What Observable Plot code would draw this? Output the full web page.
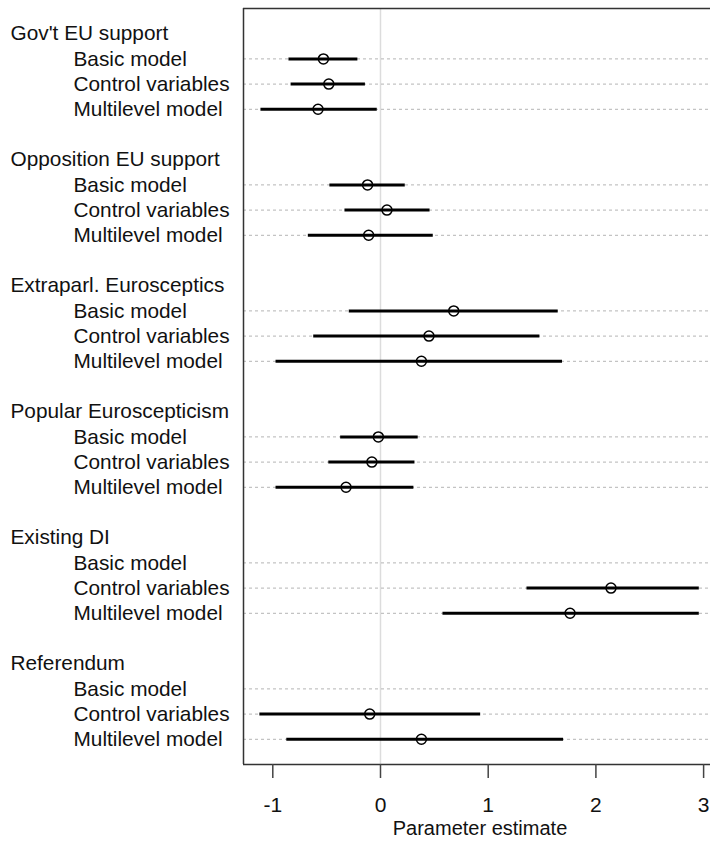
<!DOCTYPE html>
<html>
<head>
<meta charset="utf-8">
<script src="https://cdn.jsdelivr.net/npm/d3@7"></script>
<script src="https://cdn.jsdelivr.net/npm/@observablehq/plot@0.6"></script>
<style>
  html, body { margin: 0; padding: 0; background: #fff; }
  #chart svg { display: block; }
</style>
</head>
<body>
<div id="chart"></div>
<script>
const groups = ["Gov't EU support", "Opposition EU support", "Extraparl. Eurosceptics", "Popular Euroscepticism", "Existing DI", "Referendum"];
const models = ["Basic model", "Control variables", "Multilevel model"];
// estimates per group, in model order (Basic, Control, Multilevel)
const estimate = [-0.53, -0.48, -0.58,  -0.12, 0.06, -0.11,  0.68, 0.45, 0.38,  -0.02, -0.08, -0.32,  null, 2.14, 1.76,  null, -0.10, 0.38];
const lower    = [-0.85, -0.83, -1.11,  -0.47, -0.33, -0.67, -0.29, -0.62, -0.97, -0.37, -0.48, -0.97,  null, 1.36, 0.58,  null, -1.12, -0.87];
const upper    = [-0.21, -0.14, -0.03,   0.23, 0.46, 0.49,   1.65, 1.48, 1.69,   0.35, 0.32, 0.31,   null, 2.96, 2.96,  null, 0.93, 1.70];
const xTicks = [-1, 0, 1, 2, 3];

const headers = groups.map((g, i) => ({label: g, row: i * 5}));
const rows = [];
groups.forEach((g, i) => models.forEach((m, j) => {
  const k = i * 3 + j;
  rows.push({group: g, label: m, row: i * 5 + 1 + j, est: estimate[k], lo: lower[k], hi: upper[k]});
}));
const valid = rows.filter(d => d.est != null);

const xDomain = [-1.272, 3.064];
const yDomain = [-1, 29];

const chart = Plot.plot({
  width: 710,
  height: 842,
  marginLeft: 243,
  marginRight: 0,
  marginTop: 8,
  marginBottom: 78,
  style: {fontFamily: "'Liberation Sans', Arial, sans-serif", background: "#fff"},
  x: {domain: xDomain},
  y: {domain: yDomain, reverse: true, axis: null},
  marks: [
    Plot.ruleX([0], {stroke: "#dcdcdc", strokeWidth: 1.5}),
    Plot.ruleY(rows, {y: "row", stroke: "#b4b4b4", strokeWidth: 1, strokeDasharray: "3,3"}),
    Plot.ruleY(valid, {y: "row", x1: "lo", x2: "hi", stroke: "#000", strokeWidth: 3}),
    Plot.dot(valid, {x: "est", y: "row", r: 5, stroke: "#000", fill: "none", strokeWidth: 1.5}),
    Plot.ruleX([xDomain[0]], {stroke: "#333", strokeWidth: 1.5}),
    Plot.ruleY(yDomain, {stroke: "#333", strokeWidth: 1.5}),
    Plot.text(headers, {y: "row", text: "label", frameAnchor: "left", dx: -233, textAnchor: "start", fontSize: 20.8, fill: "#111"}),
    Plot.text(rows, {y: "row", text: "label", frameAnchor: "left", dx: -170, textAnchor: "start", fontSize: 20.8, fill: "#111"}),
    Plot.axisX(xTicks, {tickSize: 14, tickPadding: 19, fontSize: 21, tickFormat: d => String(d), stroke: "#444", strokeWidth: 1.5, fill: "#111", label: null}),
    Plot.text(["Parameter estimate"], {frameAnchor: "bottom", dx: 3, dy: 70, fontSize: 20, fill: "#111"})
  ]
});
document.getElementById("chart").appendChild(chart);
</script>
</body>
</html>
